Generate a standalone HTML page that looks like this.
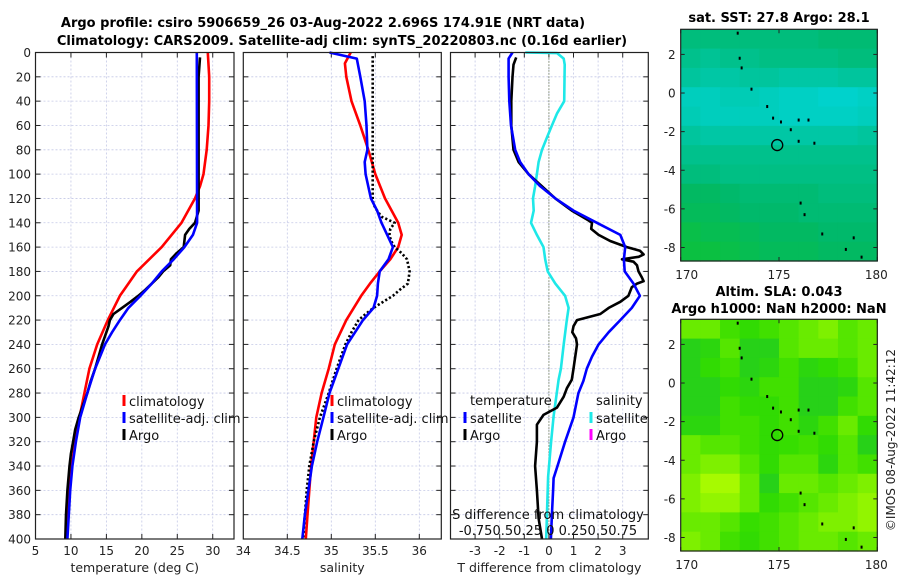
<!DOCTYPE html>
<html><head><meta charset="utf-8">
<style>
html,body{margin:0;padding:0;background:#fff;}
svg{display:block;font-family:"DejaVu Sans","Liberation Sans",sans-serif;}
</style></head>
<body>
<svg id="fig" width="900" height="580" viewBox="0 0 900 580" xmlns="http://www.w3.org/2000/svg">
<text x="323" y="27" text-anchor="middle" font-size="13" font-weight="bold">Argo profile: csiro 5906659_26 03-Aug-2022 2.696S 174.91E (NRT data)</text>
<text x="342" y="45" text-anchor="middle" font-size="13" font-weight="bold">Climatology: CARS2009. Satellite-adj clim: synTS_20220803.nc (0.16d earlier)</text>
<text x="779" y="22" text-anchor="middle" font-size="13" font-weight="bold">sat. SST: 27.8 Argo: 28.1</text>
<text x="779" y="296" text-anchor="middle" font-size="13" font-weight="bold">Altim. SLA: 0.043</text>
<text x="779" y="313" text-anchor="middle" font-size="13" font-weight="bold">Argo h1000: NaN h2000: NaN</text>
<text transform="translate(895,440) rotate(-90)" text-anchor="middle" font-size="12" fill="#222">©IMOS 08-Aug-2022 11:42:12</text>
</svg>
<script>
// ---------- data ----------
const depthClimT=[0,20,40,60,80,100,110,120,140,160,180,190,200,220,240,260,280,300,320,340,360,380,400];
const tempClim=[29.3,29.5,29.5,29.4,29.15,28.7,28.2,27.5,25.6,22.8,19.3,18.1,16.9,15.2,13.7,12.6,11.9,11.2,10.6,10.1,9.8,9.6,9.4];
const depthSatT=[0,140,150,160,170,180,190,200,210,220,230,240,260,280,300,320,340,360,380,400];
const tempSat=[27.75,27.8,27.2,26.0,24.5,22.8,21.4,19.8,18.1,16.9,15.8,14.8,13.4,12.3,11.3,10.7,10.2,9.9,9.7,9.5];
const depthArgoT=[4,20,130,140,145,150,155,160,165,170,175,180,185,190,195,200,205,210,215,220,225,230,240,250,260,270,280,290,300,310,320,330,340,360,380,400];
const tempArgo=[28.2,28.0,28.0,27.5,26.7,26.1,26.0,25.9,24.9,24.1,24.0,23.0,22.3,21.4,20.5,19.5,18.4,17.2,16.0,15.5,15.3,15.0,14.4,13.9,13.4,12.8,12.3,11.7,11.1,10.6,10.3,10.0,9.8,9.5,9.3,9.2];

const depthClimS=[0,9,20,40,60,80,100,120,140,150,160,170,180,190,200,220,240,260,280,300,320,340,360,380,400];
const salClim=[35.22,35.155,35.17,35.23,35.33,35.42,35.50,35.61,35.76,35.80,35.76,35.67,35.55,35.44,35.34,35.17,35.04,34.97,34.89,34.83,34.80,34.77,34.75,34.73,34.71];
const depthSatS=[0,5,20,40,60,80,90,100,120,130,140,160,170,180,190,200,210,220,230,240,260,280,300,320,340,360,380,400];
const salSat=[34.98,35.29,35.33,35.38,35.40,35.41,35.38,35.39,35.45,35.52,35.57,35.70,35.65,35.55,35.53,35.52,35.48,35.36,35.27,35.18,35.08,34.98,34.91,34.84,34.78,34.74,34.70,34.67];
const depthArgoS=[3,120,125,130,135,140,145,150,155,160,165,170,180,190,195,200,205,210,215,220,230,240,260,280,300,320,340,360,380,400];
const salArgo=[35.47,35.47,35.48,35.52,35.57,35.72,35.67,35.66,35.68,35.72,35.80,35.86,35.89,35.87,35.78,35.70,35.59,35.48,35.39,35.31,35.23,35.16,35.06,34.97,34.87,34.80,34.75,34.72,34.70,34.68];

const depthDiffSat=[0,5,20,40,60,80,90,100,110,120,130,140,150,160,170,180,190,200,210,220,230,240,250,260,270,280,300,320,340,350,360,380,400];
const tDiffSat=[-1.48,-1.64,-1.64,-1.61,-1.54,-1.37,-1.17,-0.83,-0.35,0.26,1.0,1.95,2.9,3.1,3.05,3.08,3.44,3.7,3.37,2.9,2.43,2.02,1.75,1.54,1.4,1.2,1.0,0.66,0.35,0.19,0.17,0.12,0.08];
const depthDiffArgo=[4,10,20,40,60,80,90,100,110,120,130,138,140,145,150,155,160,163,166,168,170,172,175,180,185,188,190,193,200,205,210,215,220,225,230,235,240,260,269,276,283,292,298,306,320,340,360,383,400];
const tDiffArgo=[-1.33,-1.44,-1.48,-1.53,-1.53,-1.44,-1.23,-0.83,-0.28,0.26,0.93,1.6,1.75,1.72,2.02,2.49,3.17,3.7,3.85,3.65,2.97,3.44,3.58,3.64,3.78,3.85,3.58,3.37,3.23,2.9,2.43,2.09,1.14,1.0,0.95,1.1,1.14,1.0,0.93,0.73,0.6,0.33,-0.22,-0.49,-0.49,-0.56,-0.49,-0.42,-0.28];
const depthDiffSalSat=[0,0.5,5,10,40,50,60,70,80,90,100,110,120,130,140,150,160,170,180,190,200,210,220,240,260,269,299,320,349,400];
const sDiffSat=[-0.24,0.083,0.15,0.16,0.155,0.083,0.03,-0.02,-0.07,-0.105,-0.122,-0.14,-0.162,-0.155,-0.182,-0.122,-0.055,-0.038,-0.012,0.065,0.165,0.2,0.182,0.15,0.122,0.098,0.048,0.022,-0.008,-0.028];

const tTicks=[5,10,15,20,25,30];
const sTicks=[34,34.5,35,35.5,36];
const sTickLabels=["34","34.5","35","35.5","36"];
const dTicks=[-3,-2,-1,0,1,2,3];
const depthTicks=[0,20,40,60,80,100,120,140,160,180,200,220,240,260,280,300,320,340,360,380,400];
const lonTicks=[170,175,180];
const latTicks=[2,0,-2,-4,-6,-8];

const sstGrid=[
[0.45,0.45,0.45,0.45,0.45,0.45,0.45,0.4,0.4,0.4],
[0.55,0.6,0.55,0.55,0.5,0.5,0.5,0.5,0.45,0.45],
[0.65,0.7,0.7,0.65,0.65,0.7,0.7,0.7,0.65,0.65],
[0.85,0.85,0.8,0.8,0.85,0.9,0.9,0.95,0.95,0.9],
[0.8,0.85,0.85,0.85,0.85,0.9,0.9,0.9,0.9,0.85],
[0.65,0.7,0.7,0.7,0.7,0.7,0.7,0.7,0.7,0.65],
[0.55,0.55,0.55,0.55,0.55,0.55,0.55,0.55,0.55,0.55],
[0.45,0.45,0.5,0.5,0.5,0.5,0.5,0.5,0.5,0.5],
[0.3,0.3,0.35,0.4,0.4,0.4,0.4,0.45,0.45,0.45],
[0.25,0.25,0.3,0.35,0.35,0.35,0.4,0.4,0.4,0.4],
[0.15,0.2,0.2,0.25,0.3,0.3,0.3,0.35,0.35,0.35],
[0.1,0.1,0.15,0.2,0.25,0.25,0.25,0.3,0.3,0.3]];
const slaGrid=[
[0.6,0.6,0.4,0.3,0.4,0.5,0.6,0.7,0.5,0.6],
[0.1,0.2,0.5,0.1,0.1,0.5,0.6,0.6,0.5,0.6],
[0.1,0.3,0.4,0.1,0.2,0.4,0.2,0.3,0.4,0.6],
[0.1,0.1,0.3,0.2,0.4,0.4,0.1,0.1,0.2,0.5],
[0.1,0.1,0.4,0.3,0.3,0.4,0.1,0.1,0.4,0.5],
[0.2,0.2,0.4,0.4,0.3,0.4,0.2,0.4,0.6,0.3],
[0.6,0.5,0.5,0.4,0.3,0.35,0.4,0.3,0.5,0.1],
[0.6,0.7,0.7,0.5,0.3,0.5,0.5,0.2,0.5,0.4],
[0.7,0.9,0.9,0.6,0.1,0.6,0.6,0.5,0.6,0.7],
[0.7,0.8,0.8,0.6,0.3,0.4,0.5,0.6,0.7,0.8],
[0.6,0.6,0.5,0.35,0.4,0.5,0.6,0.7,0.7,0.8],
[0.7,0.6,0.4,0.3,0.4,0.5,0.6,0.6,0.5,0.6]];
const islandLons=[172.9,173.0,173.1,173.6,174.4,174.7,175.1,175.6,176.0,176.5,176.0,176.8,176.1,176.3,177.2,178.4,178.8,179.2];
const islandLats=[3.1,1.8,1.3,0.2,-0.7,-1.3,-1.5,-1.9,-1.4,-1.4,-2.5,-2.6,-5.7,-6.3,-7.3,-8.1,-7.5,-8.5];
const argoLon=174.91, argoLat=-2.696;

// ---------- helpers ----------
const svg=document.getElementById('fig');
const NS='http://www.w3.org/2000/svg';
function mk(tag,attrs,parent){const e=document.createElementNS(NS,tag);for(const k in attrs)e.setAttribute(k,attrs[k]);(parent||svg).appendChild(e);return e;}
const Y0=52.5,Y1=539;
function yD(d){return Y0+(Y1-Y0)*d/400;}

const panels=[
 {name:'temperature',x0:35.5,x1:234,v0:5,v1:33},
 {name:'salinity',x0:243.3,x1:441.3,v0:34,v1:36.25},
 {name:'difference',x0:450.5,x1:648.3,v0:-4,v1:4.04}
];
function xf(p,v){return p.x0+(p.x1-p.x0)*(v-p.v0)/(p.v1-p.v0);}

function drawFrame(p,ticks,labels,title,showY){
  const g=mk('g',{});
  
  
  // grid
  depthTicks.forEach(d=>{
    if(d===0||d===400)return;
    const l=mk('line',{x1:p.x0,x2:p.x1,y1:yD(d),y2:yD(d),stroke:'#c4c8e6','stroke-width':0.8,'stroke-dasharray':'2 2'},g);
    
    
  });
  ticks.forEach((v,i)=>{
    const x=xf(p,v);
    if(x>p.x0+1&&x<p.x1-1){
      const l=mk('line',{x1:x,x2:x,y1:Y0,y2:Y1,stroke:'#c4c8e6','stroke-width':0.8,'stroke-dasharray':'2 2'},g);
      
      
      mk('line',{x1:x,x2:x,y1:Y0,y2:Y0+5,stroke:'#222','stroke-width':1},g);
      mk('line',{x1:x,x2:x,y1:Y1,y2:Y1-5,stroke:'#222','stroke-width':1},g);
    }
    const t=mk('text',{x:x,y:555,'text-anchor':'middle','font-size':12,fill:'#222'},g);
    t.textContent=labels[i];
    
    
  });
  depthTicks.forEach(d=>{
    mk('line',{x1:p.x0,x2:p.x0+5,y1:yD(d),y2:yD(d),stroke:'#222','stroke-width':1},g);
    mk('line',{x1:p.x1,x2:p.x1-5,y1:yD(d),y2:yD(d),stroke:'#222','stroke-width':1},g);
    if(showY){
      const t=mk('text',{x:31,y:yD(d)+4.5,'text-anchor':'end','font-size':12,fill:'#222'},g);
      t.textContent=d;
      
      
    }
  });
  const tt=mk('text',{x:(p.x0+p.x1)/2,y:572,'text-anchor':'middle','font-size':12.5,fill:'#222'},g);
  tt.textContent=title;
  
  
  return g;
}
function frameBox(p,g){
  const r=mk('rect',{x:p.x0,y:Y0,width:p.x1-p.x0,height:Y1-Y0,fill:'none',stroke:'#222','stroke-width':1.2},g);
  
  
}
function line(p,g,vals,depths,color,name,dash){
  const pts=vals.map((v,i)=>xf(p,v).toFixed(1)+','+yD(depths[i]).toFixed(1)).join(' ');
  const a={points:pts,fill:'none',stroke:color,'stroke-width':2.6,'stroke-linejoin':'round'};
  if(dash)a['stroke-dasharray']=dash;
  const e=mk('polyline',a,g);
  
  
}
function legendEntry(g,x,y,color,label,name){
  const gg=mk('g',{},g);
  
  
  mk('rect',{x:x-1.5,y:y-11,width:3,height:11,fill:color},gg);
  const t=mk('text',{x:x+5,y:y,'font-size':13,fill:'#111'},gg);
  t.textContent=label;
}

// Panel 1
let p=panels[0];
let g=drawFrame(p,tTicks,tTicks.map(String),'temperature (deg C)',true);
line(p,g,tempClim,depthClimT,'#f00','temp-climatology-line');
line(p,g,tempArgo,depthArgoT,'#000','temp-argo-line');
line(p,g,tempSat,depthSatT,'#00f','temp-satellite-line');
legendEntry(g,124,406,'#f00','climatology','legend-entry-climatology');
legendEntry(g,124,423,'#00f','satellite-adj. clim','legend-entry-satellite');
legendEntry(g,124,440,'#000','Argo','legend-entry-argo');
frameBox(p,g);

// Panel 2
p=panels[1];
g=drawFrame(p,sTicks,sTickLabels,'salinity',false);
line(p,g,salClim,depthClimS,'#f00','sal-climatology-line');
line(p,g,salArgo,depthArgoS,'#000','sal-argo-line','2.2 2.2');
line(p,g,salSat,depthSatS,'#00f','sal-satellite-line');
legendEntry(g,332,406,'#f00','climatology','legend-entry-climatology');
legendEntry(g,332,423,'#00f','satellite-adj. clim','legend-entry-satellite');
legendEntry(g,332,440,'#000','Argo','legend-entry-argo');
frameBox(p,g);

// Panel 3
p=panels[2];
g=drawFrame(p,dTicks,dTicks.map(String),'T difference from climatology',false);
const zl=mk('line',{x1:xf(p,0),x2:xf(p,0),y1:Y0,y2:Y1,stroke:'#4a5a2a','stroke-width':1,'stroke-dasharray':'1 2'},g);


line(p,g,sDiffSat.map(v=>v*4),depthDiffSalSat,'#1ee8e8','sal-diff-satellite-line');
line(p,g,tDiffArgo,depthDiffArgo,'#000','temp-diff-argo-line');
line(p,g,tDiffSat,depthDiffSat,'#00f','temp-diff-satellite-line');
let t=mk('text',{x:470,y:405,'font-size':13,fill:'#111'},g);t.textContent='temperature';


t=mk('text',{x:596,y:405,'font-size':13,fill:'#111'},g);t.textContent='salinity';


legendEntry(g,465,423,'#00f','satellite','legend-entry-temp-satellite');
legendEntry(g,465,440,'#000','Argo','legend-entry-temp-argo');
legendEntry(g,591,423,'#1ee8e8','satellite','legend-entry-sal-satellite');
legendEntry(g,591,440,'#f0f','Argo','legend-entry-sal-argo');
t=mk('text',{x:548,y:519,'text-anchor':'middle','font-size':13,fill:'#111'},g);t.textContent='S difference from climatology';


t=mk('text',{x:548,y:535,'text-anchor':'middle','font-size':13,fill:'#111'},g);t.textContent='-0.750.50.25 0  0.250.50.75';


frameBox(p,g);

// ---------- maps ----------
function lerp(a,b,f){return a.map((v,i)=>Math.round(v+(b[i]-v)*f));}
function ramp(stops,v){
  const n=stops.length-1;const x=Math.max(0,Math.min(1,v))*n;const i=Math.min(n-1,Math.floor(x));
  const c=lerp(stops[i],stops[i+1],x-i);return 'rgb('+c.join(',')+')';
}
const sstStops=[[16,196,48],[0,184,104],[0,198,160],[0,212,212]];
const slaStops=[[34,204,34],[51,221,0],[119,238,0],[187,255,0]];
function drawMap(name,X0,X1,Ytop,Ybot,grid,stops,labelY){
  const lon0=170,lon1=180,lat0=3.3,lat1=-8.7;
  const mx=v=>X0+(X1-X0)*(v-lon0)/(lon1-lon0);
  const my=v=>Ytop+(Ybot-Ytop)*(lat0-v)/(lat0-lat1);
  const g=mk('g',{});
  
  
  const rows=grid.length,cols=grid[0].length;
  const cw=(X1-X0)/cols,ch=(Ybot-Ytop)/rows;
  grid.forEach((row,r)=>row.forEach((v,c)=>{
    const cell=mk('rect',{x:(X0+c*cw).toFixed(2),y:(Ytop+r*ch).toFixed(2),width:(cw+0.6).toFixed(2),height:(ch+0.6).toFixed(2),fill:ramp(stops,v)},g);
    
    
  }));
  islandLons.forEach((lo,i)=>{
    const d=mk('rect',{x:mx(lo)-1,y:my(islandLats[i])-1.5,width:2,height:3,fill:'#000'},g);
    
    
  });
  const c=mk('circle',{cx:mx(argoLon),cy:my(argoLat),r:5.5,fill:'none',stroke:'#000','stroke-width':1.3},g);
  
  
  mk('rect',{x:X0,y:Ytop,width:X1-X0,height:Ybot-Ytop,fill:'none',stroke:'#222','stroke-width':1.2},g);
  latTicks.forEach(v=>{
    const y=my(v);
    mk('line',{x1:X0,x2:X0+4,y1:y,y2:y,stroke:'#222'},g);
    mk('line',{x1:X1,x2:X1-4,y1:y,y2:y,stroke:'#222'},g);
    const tl=mk('text',{x:X0-5,y:y+4.5,'text-anchor':'end','font-size':12,fill:'#222'},g);
    tl.textContent=v;
    
    
  });
  lonTicks.forEach(v=>{
    const x=mx(v);
    mk('line',{x1:x,x2:x,y1:Ytop,y2:Ytop+4,stroke:'#222'},g);
    mk('line',{x1:x,x2:x,y1:Ybot,y2:Ybot-4,stroke:'#222'},g);
    const tl=mk('text',{x:x+(v===170?6:(v===180?-1:0)),y:labelY,'text-anchor':'middle','font-size':12,fill:'#222'},g);
    tl.textContent=v;
    
    
  });
}
drawMap('sst-map',680.7,877.3,29.3,261,sstGrid,sstStops,279);
drawMap('sla-map',680.7,877.3,319.3,551,slaGrid,slaStops,569);
</script>
</body></html>
